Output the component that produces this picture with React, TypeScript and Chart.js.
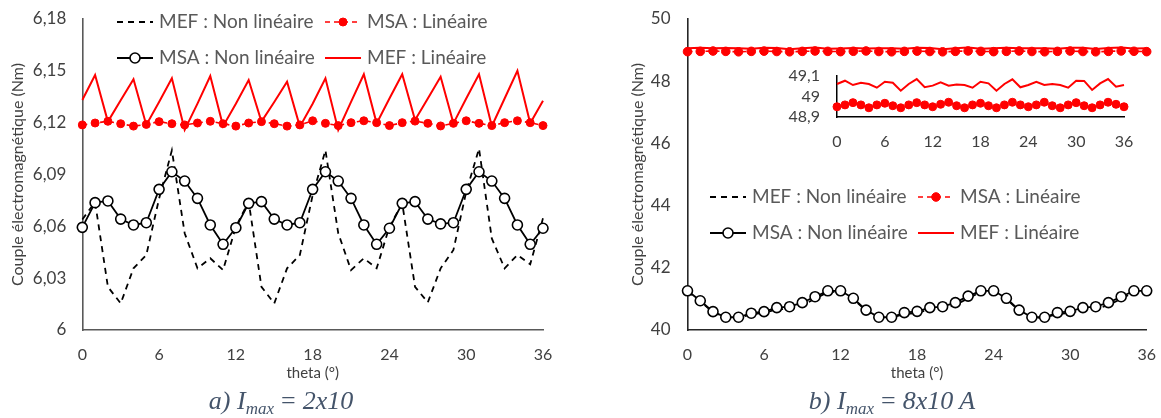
import React, { useEffect, useRef } from "react";
import { Chart, registerables } from "chart.js";
Chart.register(...registerables);

// ---------- data ----------
const theta = [0, 1, 2, 3, 4, 5, 6, 7, 8, 9, 10, 11, 12, 13, 14, 15, 16, 17, 18, 19, 20, 21, 22, 23, 24, 25, 26, 27, 28, 29, 30, 31, 32, 33, 34, 35, 36];
const xTickLabels = [0, 6, 12, 18, 24, 30, 36];

const yTicksA = [6, 6.03, 6.06, 6.09, 6.12, 6.15, 6.18];
const yTicksB = [40, 42, 44, 46, 48, 50];
const yTicksInset = [48.9, 49, 49.1];

// Panel a) Imax = 2x10
const aMEF_NL = [6.064, 6.074, 6.025, 6.0154, 6.0357, 6.0434, 6.076, 6.104, 6.056, 6.0357, 6.0415, 6.0347, 6.0598, 6.0743, 6.025, 6.0154, 6.0357, 6.0434, 6.078, 6.104, 6.056, 6.0347, 6.0415, 6.0357, 6.0598, 6.0733, 6.025, 6.016, 6.0357, 6.0463, 6.08, 6.105, 6.053, 6.0357, 6.0434, 6.038, 6.0647];
const aMSA_L = [6.1187, 6.1198, 6.1208, 6.1194, 6.118, 6.119, 6.1206, 6.1194, 6.1187, 6.1198, 6.1208, 6.1194, 6.118, 6.1198, 6.1206, 6.1194, 6.118, 6.1187, 6.1211, 6.1196, 6.1183, 6.12, 6.1211, 6.12, 6.1183, 6.12, 6.1209, 6.1196, 6.1181, 6.1196, 6.1211, 6.1196, 6.1183, 6.12, 6.1211, 6.12, 6.1183];
const aMSA_NL = [6.0594, 6.0737, 6.0747, 6.0642, 6.0608, 6.0621, 6.0814, 6.0916, 6.0862, 6.0762, 6.0608, 6.0496, 6.0592, 6.0733, 6.0743, 6.0642, 6.0608, 6.0621, 6.0814, 6.0916, 6.0862, 6.0762, 6.0608, 6.0496, 6.0589, 6.0733, 6.0743, 6.0642, 6.0614, 6.0621, 6.0814, 6.0916, 6.0862, 6.0762, 6.0608, 6.0496, 6.0589];
const aMEF_L = [6.1331, 6.1476, 6.1206, 6.133, 6.1451, 6.1187, 6.132, 6.1457, 6.1158, 6.131, 6.147, 6.118, 6.131, 6.1447, 6.1206, 6.132, 6.1437, 6.1177, 6.131, 6.1457, 6.1158, 6.132, 6.148, 6.1196, 6.134, 6.148, 6.1215, 6.134, 6.1466, 6.1196, 6.134, 6.148, 6.118, 6.134, 6.15, 6.1196, 6.1327];

// Panel b) Imax = 8x10 A
const bMEF_NL = [41.24, 40.92, 40.57, 40.4, 40.4, 40.5, 40.55, 40.66, 40.68, 40.8, 41.0, 41.22, 41.24, 41.0, 40.62, 40.4, 40.4, 40.51, 40.55, 40.66, 40.68, 40.8, 41.02, 41.22, 41.24, 41.0, 40.62, 40.4, 40.4, 40.51, 40.55, 40.66, 40.68, 40.8, 41.0, 41.22, 41.24];
const bMSA_NL = [41.26, 40.94, 40.59, 40.41, 40.41, 40.54, 40.59, 40.72, 40.75, 40.88, 41.07, 41.26, 41.26, 41.02, 40.64, 40.41, 40.41, 40.56, 40.6, 40.72, 40.75, 40.88, 41.09, 41.26, 41.26, 41.02, 40.64, 40.41, 40.41, 40.56, 40.6, 40.72, 40.75, 40.88, 41.07, 41.26, 41.26];
const bMSA_L = [48.95, 48.959, 48.97, 48.959, 48.945, 48.959, 48.967, 48.955, 48.945, 48.959, 48.97, 48.959, 48.95, 48.962, 48.972, 48.955, 48.945, 48.959, 48.967, 48.955, 48.945, 48.959, 48.972, 48.959, 48.95, 48.959, 48.972, 48.955, 48.945, 48.959, 48.97, 48.955, 48.945, 48.959, 48.972, 48.962, 48.95];
const bMEF_L = [49.061, 49.077, 49.056, 49.067, 49.061, 49.043, 49.072, 49.067, 49.028, 49.061, 49.085, 49.045, 49.053, 49.069, 49.053, 49.059, 49.056, 49.043, 49.072, 49.064, 49.028, 49.061, 49.084, 49.045, 49.056, 49.072, 49.056, 49.061, 49.056, 49.043, 49.077, 49.076, 49.032, 49.064, 49.085, 49.048, 49.056];

const LBL_MEF_NL = "MEF : Non linéaire";
const LBL_MSA_L = "MSA : Linéaire";
const LBL_MSA_NL = "MSA : Non linéaire";
const LBL_MEF_L = "MEF : Linéaire";

// ---------- helpers ----------
const fmt = (v: number) => String(Number(Number(v).toFixed(2))).replace(".", ",");
const FONT = "Lato";
const TICK_COLOR = "#404040";

const legendPlugin = {
  id: "customLegend",
  afterDraw(chart: any, _args: any, opts: any) {
    if (!opts || !opts.items) return;
    const ctx = chart.ctx;
    ctx.save();
    const w = opts.symbolWidth;
    opts.items.forEach((it: any) => {
      const ds = chart.data.datasets[it.index];
      const y = it.y;
      ctx.beginPath();
      ctx.setLineDash(ds.borderDash || []);
      ctx.strokeStyle = ds.borderColor;
      ctx.lineWidth = ds.borderWidth;
      ctx.moveTo(it.x, y);
      ctx.lineTo(it.x + w, y);
      ctx.stroke();
      ctx.setLineDash([]);
      if (ds.pointRadius > 0) {
        ctx.beginPath();
        ctx.arc(it.x + w / 2, y, ds.pointRadius, 0, Math.PI * 2);
        ctx.fillStyle = ds.pointBackgroundColor;
        ctx.fill();
        ctx.lineWidth = ds.pointBorderWidth;
        ctx.strokeStyle = ds.pointBorderColor;
        ctx.stroke();
      }
      ctx.font = `${opts.fontSize}px ${FONT}`;
      ctx.fillStyle = opts.color;
      ctx.textAlign = "left";
      ctx.textBaseline = "middle";
      ctx.fillText(ds.label, it.x + w + opts.gap, y);
    });
    ctx.restore();
  },
};

function datasets(mefNL: number[] | null, msaNL: number[] | null, msaL: number[], mefL: number[], dotR: number) {
  const out: any[] = [];
  if (msaNL) out.push({ label: LBL_MSA_NL, data: msaNL, borderColor: "#000000", borderWidth: 1.8, pointRadius: 5, pointBackgroundColor: "#ffffff", pointBorderColor: "#000000", pointBorderWidth: 1.6, borderDash: [] });
  if (mefNL) out.push({ label: LBL_MEF_NL, data: mefNL, borderColor: "#000000", borderWidth: 1.8, borderDash: [6, 5], pointRadius: 0 });
  out.push({ label: LBL_MSA_L, data: msaL, borderColor: "#FF0000", borderWidth: 1.6, borderDash: [5, 4], pointRadius: dotR, pointBackgroundColor: "#FF0000", pointBorderColor: "#FF0000", pointBorderWidth: 1 });
  out.push({ label: LBL_MEF_L, data: mefL, borderColor: "#FF0000", borderWidth: 2, borderDash: [], pointRadius: 0 });
  return out;
}

function buildOptions(cfg: any) {
  return {
    responsive: false,
    animation: false,
    events: [],
    layout: { padding: cfg.padding },
    plugins: { legend: { display: false }, tooltip: { enabled: false }, customLegend: cfg.legend || {} },
    scales: {
      x: {
        type: "category",
        offset: false,
        grid: { display: false, drawTicks: false },
        border: { display: true, color: cfg.axisColor, width: cfg.axisWidth },
        ticks: {
          autoSkip: false,
          maxRotation: 0,
          padding: cfg.xTickPad,
          color: TICK_COLOR,
          font: { family: FONT, size: cfg.xTickSize },
          callback: (_v: any, i: number) => (xTickLabels.includes(theta[i]) ? String(theta[i]) : null),
        },
        title: cfg.xTitle
          ? { display: true, text: cfg.xTitle, color: TICK_COLOR, font: { family: FONT, size: 15 }, padding: { top: 0, bottom: cfg.xTitlePad } }
          : { display: false },
        afterFit: (a: any) => { a.height = cfg.xHeight; a.paddingLeft = 0; a.paddingRight = 0; },
      },
      y: {
        type: "linear",
        min: cfg.yMin,
        max: cfg.yMax,
        grid: { display: false, drawTicks: false },
        border: { display: true, color: cfg.axisColor, width: cfg.axisWidth },
        afterBuildTicks: (a: any) => { a.ticks = cfg.yTicks.map((v: number) => ({ value: v })); },
        ticks: { autoSkip: false, padding: cfg.yTickPad, color: TICK_COLOR, font: { family: FONT, size: cfg.yTickSize }, callback: (v: any) => fmt(v) },
        title: cfg.yTitle
          ? { display: true, text: cfg.yTitle, color: TICK_COLOR, font: { family: FONT, size: 16 }, padding: { top: cfg.yTitlePad, bottom: 0 } }
          : { display: false },
        afterFit: (a: any) => { a.width = cfg.yWidth; a.paddingTop = 0; a.paddingBottom = 0; },
      },
    },
  };
}

const legendItems = (x1: number, x2: number, y1: number, y2: number) => [
  { index: 1, x: x1, y: y1 },
  { index: 2, x: x2, y: y1 },
  { index: 0, x: x1, y: y2 },
  { index: 3, x: x2, y: y2 },
];

export default function App() {
  const refA = useRef<HTMLCanvasElement>(null);
  const refB = useRef<HTMLCanvasElement>(null);
  const refC = useRef<HTMLCanvasElement>(null);

  useEffect(() => {
    const charts: any[] = [];
    const yTitle = "Couple électromagnétique (Nm)";
    charts.push(
      new Chart(refA.current as any, {
        type: "line",
        data: { labels: theta.map(String), datasets: datasets(aMEF_NL, aMSA_NL, aMSA_L, aMEF_L, 4) },
        options: buildOptions({
          padding: { left: 0, top: 19, right: 37, bottom: 0 },
          yWidth: 82.3, xHeight: 60, yMin: 6, yMax: 6.18, yTicks: yTicksA,
          axisColor: "#595959", axisWidth: 1.6, yTickSize: 17, xTickSize: 16, xTickPad: 15, yTickPad: 16,
          xTitle: "theta (°)", xTitlePad: 8, yTitle, yTitlePad: 8.4,
          legend: { symbolWidth: 36, gap: 6, fontSize: 19, color: "#595959", items: legendItems(117, 325, 22, 58) },
        }) as any,
        plugins: [legendPlugin],
      } as any)
    );
    charts.push(
      new Chart(refB.current as any, {
        type: "line",
        data: { labels: theta.map(String), datasets: datasets(bMEF_NL, bMSA_NL, bMSA_L, bMEF_L, 4.3) },
        options: buildOptions({
          padding: { left: 0, top: 19, right: 14.3, bottom: 0 },
          yWidth: 107.5, xHeight: 60, yMin: 40, yMax: 50, yTicks: yTicksB,
          axisColor: "#262626", axisWidth: 1.6, yTickSize: 17, xTickSize: 16, xTickPad: 15, yTickPad: 17,
          xTitle: "theta (°)", xTitlePad: 8, yTitle, yTitlePad: 48.4,
          legend: { symbolWidth: 36, gap: 6, fontSize: 19, color: "#595959", items: legendItems(130, 338, 197, 233) },
        }) as any,
        plugins: [legendPlugin],
      } as any)
    );
    charts.push(
      new Chart(refC.current as any, {
        type: "line",
        data: { labels: theta.map(String), datasets: datasets(null, null, bMSA_L, bMEF_L, 4) },
        options: buildOptions({
          padding: { left: 0, top: 16, right: 16, bottom: 0 },
          yWidth: 57, xHeight: 38, yMin: 48.9, yMax: 49.1, yTicks: yTicksInset,
          axisColor: "#000000", axisWidth: 1.5, yTickSize: 16, xTickSize: 16, xTickPad: 15, yTickPad: 17,
          xTitle: null, yTitle: null,
        }) as any,
      } as any)
    );
    return () => charts.forEach((c) => c.destroy());
  }, []);

  const capStyle: any = {
    position: "absolute",
    top: 386,
    transform: "translateX(-50%)",
    whiteSpace: "nowrap",
    fontFamily: '"Liberation Serif", serif',
    fontStyle: "italic",
    fontSize: 26,
    color: "#44546A",
    lineHeight: "30px",
  };
  const subStyle: any = { fontSize: 17, verticalAlign: "-5px", lineHeight: 0 };
  const eqStyle: any = { margin: "0 7px", fontStyle: "normal" };

  return (
    <div style={{ position: "absolute", left: 0, top: 0, width: 1161, height: 418, background: "#ffffff", overflow: "hidden" }}>
      <canvas ref={refA} width={580} height={390} style={{ position: "absolute", left: 0, top: 0 }} />
      <canvas ref={refB} width={581} height={390} style={{ position: "absolute", left: 580, top: 0 }} />
      <canvas ref={refC} width={360} height={95} style={{ position: "absolute", left: 780, top: 60 }} />
      <div style={{ ...capStyle, left: 281 }}>
        a) I<sub style={subStyle}>max</sub><span style={eqStyle}>=</span>2x10
      </div>
      <div style={{ ...capStyle, left: 892 }}>
        b) I<sub style={subStyle}>max</sub><span style={eqStyle}>=</span>8x10 A
      </div>
    </div>
  );
}
